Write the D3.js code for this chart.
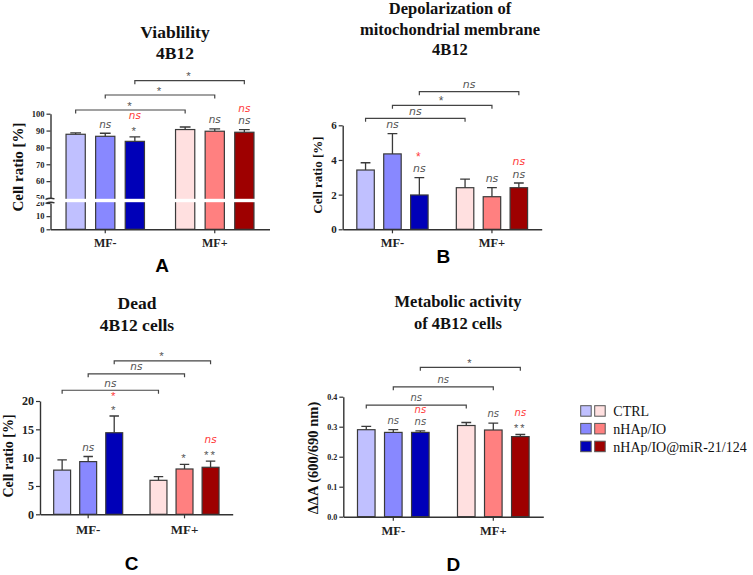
<!doctype html>
<html lang="en">
<head>
<meta charset="utf-8">
<script src="https://d3js.org/d3.v7.min.js"></script>
<style>
  body { margin: 0; background: #fff; }
  svg text { font-family: "Liberation Serif", "Times New Roman", serif; }
</style>
</head>
<body>
<div id="chart"></div>
<script>
// ---- data ----
const groups = ["MF-", "MF+"];
const series = ["CTRL", "nHAp/IO", "nHAp/IO@miR-21/124"];
const blues = ["#c0c0ff", "#8888ff", "#0000b8"];
const reds  = ["#ffe0e0", "#ff8080", "#9e0000"];

// bars are ordered MF- (CTRL, nHAp/IO, miR) then MF+ (CTRL, nHAp/IO, miR)
const viabMean  = [87.8, 86.6, 83.6, 90.6, 89.6, 89.0];
const viabSD    = [0.8, 1.8, 2.6, 1.5, 1.4, 1.6];
const depolMean = [3.42, 4.35, 1.98, 2.4, 1.88, 2.4];
const depolSD   = [0.42, 1.17, 1.0, 0.5, 0.52, 0.27];
const deadMean  = [7.8, 9.3, 14.4, 6.0, 8.0, 8.3];
const deadSD    = [1.8, 0.9, 2.95, 0.65, 0.82, 1.1];
const metabMean = [0.290, 0.281, 0.281, 0.304, 0.289, 0.267];
const metabSD   = [0.011, 0.009, 0.005, 0.010, 0.023, 0.007];

// significance vs control (grey) and vs nHAp/IO (red)
const viabSig     = ["", "ns", "*", "", "ns", "ns"];
const viabSigRed  = ["", "", "ns", "", "", "ns"];
const depolSig    = ["", "ns", "ns", "", "ns", "ns"];
const depolSigRed = ["", "", "*", "", "", "ns"];
const deadSig     = ["", "ns", "*", "", "*", "**"];
const deadSigRed  = ["", "", "*", "", "", "ns"];
const metabSig    = ["", "ns", "ns", "", "ns", "**"];
const metabSigRed = ["", "", "ns", "", "", "ns"];

// MF- vs MF+ comparisons (bar i vs bar i+3), label and height in data units
const viabBrackets  = ["*", "*", "*"];
const viabLevels    = [102.2, 111.1, 119.6];
const depolBrackets = ["ns", "*", "ns"];
const depolLevels   = [6.4, 7.15, 7.94];
const deadBrackets  = ["ns", "ns", "*"];
const deadLevels    = [21.9, 24.8, 27.1];
const metabBrackets = ["ns", "ns", "*"];
const metabLevels   = [0.372, 0.433, 0.498];

const viabTicksUpper = [50, 60, 70, 80, 90, 100];
const viabTicksLower = [0, 10, 20];
const depolTicks = [0, 2, 4, 6];
const deadTicks  = [0, 5, 10, 15, 20];
const metabTicks = [0, 0.1, 0.2, 0.3, 0.4];

const svg = d3.select("#chart").append("svg")
  .attr("width", 753).attr("height", 575);

const panels = [
  { title: ["Viablility", "4B12"], tx: 175, ty: [37.7, 59.3], tsize: 17.5,
    ylabel: "Cell ratio [%]", ylx: 18, yly: 167, ylsize: 15,
    x0: 50.5, x1: 269.5, yb: 229.3, yt: 113.7,
    broken: { lower: [0, 20], lowerPx: [229.3, 203], upper: [50, 100], upperPx: [198, 113.7] },
    tickFont: 8.5, mfFont: 12, mfY: 247, nsFont: 11,
    letter: "A", lx: 162, ly: 271.5,
    mean: viabMean, sd: viabSD, sig: viabSig, sigRed: viabSigRed,
    br: viabBrackets, brLev: viabLevels },
  { title: ["Depolarization of", "mitochondrial membrane", "4B12"], tx: 450, ty: [14.3, 34.8, 54.9], tsize: 16.5,
    ylabel: "Cell ratio [%]", ylx: 317.3, yly: 175, ylsize: 13,
    x0: 342.7, x1: 541.7, yb: 229.3, yt: 125.3, domain: [0, 6], ticks: depolTicks, fmt: d3.format("d"),
    tickFont: 11, mfFont: 12.5, mfY: 247, nsFont: 11.5,
    letter: "B", lx: 443.3, ly: 263,
    mean: depolMean, sd: depolSD, sig: depolSig, sigRed: depolSigRed,
    br: depolBrackets, brLev: depolLevels },
  { title: ["Dead", "4B12 cells"], tx: 137, ty: [309.3, 330.7], tsize: 17.5,
    ylabel: "Cell ratio [%]", ylx: 8.3, yly: 456, ylsize: 14,
    x0: 40, x1: 232.7, yb: 514.3, yt: 401, domain: [0, 20], ticks: deadTicks, fmt: d3.format("d"),
    tickFont: 12, mfFont: 13, mfY: 534, nsFont: 11,
    letter: "C", lx: 131.7, ly: 570,
    mean: deadMean, sd: deadSD, sig: deadSig, sigRed: deadSigRed,
    br: deadBrackets, brLev: deadLevels },
  { title: ["Metabolic activity", "of 4B12 cells"], tx: 458, ty: [307.3, 329], tsize: 16.5,
    ylabel: "\u0394\u0394A (600/690 nm)", ylx: 313.3, yly: 458, ylsize: 14.5,
    x0: 343.3, x1: 543.3, yb: 516.7, yt: 396.7, domain: [0, 0.4], ticks: metabTicks, fmt: d3.format(".1f"),
    tickFont: 8, mfFont: 12.5, mfY: 534.5, nsFont: 10.5,
    letter: "D", lx: 453.3, ly: 570.5,
    mean: metabMean, sd: metabSD, sig: metabSig, sigRed: metabSigRed,
    br: metabBrackets, brLev: metabLevels }
];

function styleAxis(g, fontSize) {
  g.select(".domain").attr("stroke", "#333").attr("stroke-width", 1.4);
  g.selectAll(".tick line").attr("stroke", "#333").attr("stroke-width", 1.2);
  g.selectAll(".tick text")
    .attr("fill", "#222")
    .style("font-family", '"Liberation Serif", serif')
    .style("font-weight", "bold")
    .style("font-size", fontSize + "px");
}

// places a label so that the visual centre of the glyphs sits at cy
function sigText(g, x, cy, label, color, size) {
  const star = label.indexOf("*") >= 0;
  g.append("text")
    .attr("x", x)
    .attr("y", cy + (star ? size * 0.55 : size * 0.27))
    .attr("text-anchor", "middle")
    .attr("fill", color)
    .style("font-family", star ? '"Liberation Sans", sans-serif' : '"DejaVu Sans", sans-serif')
    .style("font-style", star ? "normal" : "italic")
    .style("font-size", (star ? size * 1.05 : size * 0.95) + "px")
    .style("letter-spacing", star ? "2px" : "0px")
    .text(label);
}

panels.forEach(p => {
  const g = svg.append("g");

  // y scale (panel A has a broken axis)
  let y, yUp, yLo;
  if (p.broken) {
    yUp = d3.scaleLinear().domain(p.broken.upper).range(p.broken.upperPx);
    yLo = d3.scaleLinear().domain(p.broken.lower).range(p.broken.lowerPx);
    y = v => (v >= 35 ? yUp(v) : yLo(v));
  } else {
    y = d3.scaleLinear().domain(p.domain).range([p.yb, p.yt]);
  }

  const xg = d3.scaleBand().domain(groups).range([p.x0, p.x1]).padding(0);
  const xb = d3.scaleBand().domain(d3.range(3)).range([0, xg.bandwidth()])
    .paddingInner(0.35).paddingOuter(0.525);

  const bars = p.mean.map((m, i) => ({
    m, s: p.sd[i], gi: Math.floor(i / 3), si: i % 3,
    sig: p.sig[i], red: p.sigRed[i]
  }));
  const cx = d => xg(groups[d.gi]) + xb(d.si) + xb.bandwidth() / 2;

  // bars
  g.selectAll("rect.bar").data(bars).join("rect")
    .attr("class", "bar")
    .attr("x", d => xg(groups[d.gi]) + xb(d.si))
    .attr("width", xb.bandwidth())
    .attr("y", d => y(d.m))
    .attr("height", d => y(0) - y(d.m))
    .attr("fill", d => (d.gi === 0 ? blues : reds)[d.si])
    .attr("stroke", "#3a3a3a")
    .attr("stroke-width", 1.2);

  // error bars (upper only)
  const cap = xb.bandwidth() * 0.28;
  g.selectAll("path.err").data(bars).join("path")
    .attr("class", "err")
    .attr("d", d => `M${cx(d)},${y(d.m)}V${y(d.m + d.s)}M${cx(d) - cap},${y(d.m + d.s)}H${cx(d) + cap}`)
    .attr("fill", "none").attr("stroke", "#3a3a3a").attr("stroke-width", 1.3);

  // axes
  if (p.broken) {
    const aU = g.append("g").attr("transform", `translate(${p.x0},0)`)
      .call(d3.axisLeft(yUp).tickValues(viabTicksUpper).tickSize(4).tickSizeOuter(0).tickPadding(2));
    const aL = g.append("g").attr("transform", `translate(${p.x0},0)`)
      .call(d3.axisLeft(yLo).tickValues(viabTicksLower).tickSize(4).tickSizeOuter(0).tickPadding(2));
    styleAxis(aU, p.tickFont); styleAxis(aL, p.tickFont);
    // white gap across the plot at the break
    g.append("rect")
      .attr("x", p.x0 - 20).attr("width", p.x1 - p.x0 + 20)
      .attr("y", yUp(50) + 0.8).attr("height", yLo(20) - yUp(50) - 1.6)
      .attr("fill", "#fff");
    [yUp(50) + 0.5, yLo(20) - 0.5].forEach(by => {
      g.append("path")
        .attr("d", `M${p.x0 - 5},${by + 0.8}Q${p.x0},${by - 1} ${p.x0 + 4},${by + 0.3}`)
        .attr("fill", "none").attr("stroke", "#333").attr("stroke-width", 1.3);
    });
  } else {
    const aY = g.append("g").attr("transform", `translate(${p.x0},0)`)
      .call(d3.axisLeft(y).tickValues(p.ticks).tickFormat(p.fmt).tickSize(4).tickSizeOuter(0).tickPadding(2));
    styleAxis(aY, p.tickFont);
  }
  const aX = g.append("g").attr("transform", `translate(0,${y(0)})`)
    .call(d3.axisBottom(xg).tickSize(4).tickSizeOuter(0).tickFormat(() => ""));
  styleAxis(aX, p.mfFont);
  groups.forEach(gr => {
    g.append("text")
      .attr("x", xg(gr) + xg.bandwidth() / 2).attr("y", p.mfY)
      .attr("text-anchor", "middle").attr("fill", "#222")
      .style("font-weight", "bold").style("font-size", p.mfFont + "px")
      .text(gr);
  });

  // significance marks above bars
  bars.forEach(d => {
    const top = y(d.m + d.s);
    const gc = top - 8.5;
    if (d.sig) sigText(g, cx(d), gc, d.sig, "#555", p.nsFont);
    if (d.red) sigText(g, cx(d), gc - (d.red === "*" ? 14 : 12.5), d.red, "#ff3b3b", p.nsFont);
  });

  // MF- vs MF+ brackets
  p.br.forEach((lab, k) => {
    const a = bars[k], b = bars[k + 3];
    const ly = y(p.brLev[k]);
    g.append("path")
      .attr("d", `M${cx(a)},${ly + 3.5}V${ly}H${cx(b)}V${ly + 3.5}`)
      .attr("fill", "none").attr("stroke", "#444").attr("stroke-width", 1.2);
    sigText(g, (cx(a) + cx(b)) / 2, ly - 6.5, lab, "#555", p.nsFont);
  });

  // title
  p.title.forEach((t, k) => {
    g.append("text")
      .attr("x", p.tx).attr("y", p.ty[k])
      .attr("text-anchor", "middle").attr("fill", "#111")
      .style("font-weight", "bold").style("font-size", p.tsize + "px")
      .text(t);
  });

  // y label
  g.append("text")
    .attr("transform", `translate(${p.ylx + p.ylsize * 0.33},${p.yly}) rotate(-90)`)
    .attr("text-anchor", "middle").attr("fill", "#111")
    .style("font-weight", "bold").style("font-size", p.ylsize + "px")
    .text(p.ylabel);

  // panel letter
  g.append("text")
    .attr("x", p.lx).attr("y", p.ly)
    .attr("text-anchor", "middle").attr("fill", "#000")
    .style("font-family", '"Liberation Sans", Arial, sans-serif')
    .style("font-weight", "bold").style("font-size", "19px")
    .text(p.letter);
});

// legend
const legendRows = [411, 428.7, 446.5];
const leg = svg.append("g");
series.forEach((s, i) => {
  [blues, reds].forEach((pal, j) => {
    leg.append("rect")
      .attr("x", 580.7 + j * 14).attr("y", legendRows[i] - 5.3)
      .attr("width", 10.5).attr("height", 10.5)
      .attr("fill", pal[i]).attr("stroke", "#555").attr("stroke-width", 1);
  });
  leg.append("text")
    .attr("x", 613.3).attr("y", legendRows[i] + 5)
    .attr("fill", "#111").style("font-size", "14px")
    .text(s);
});
</script>
</body>
</html>
